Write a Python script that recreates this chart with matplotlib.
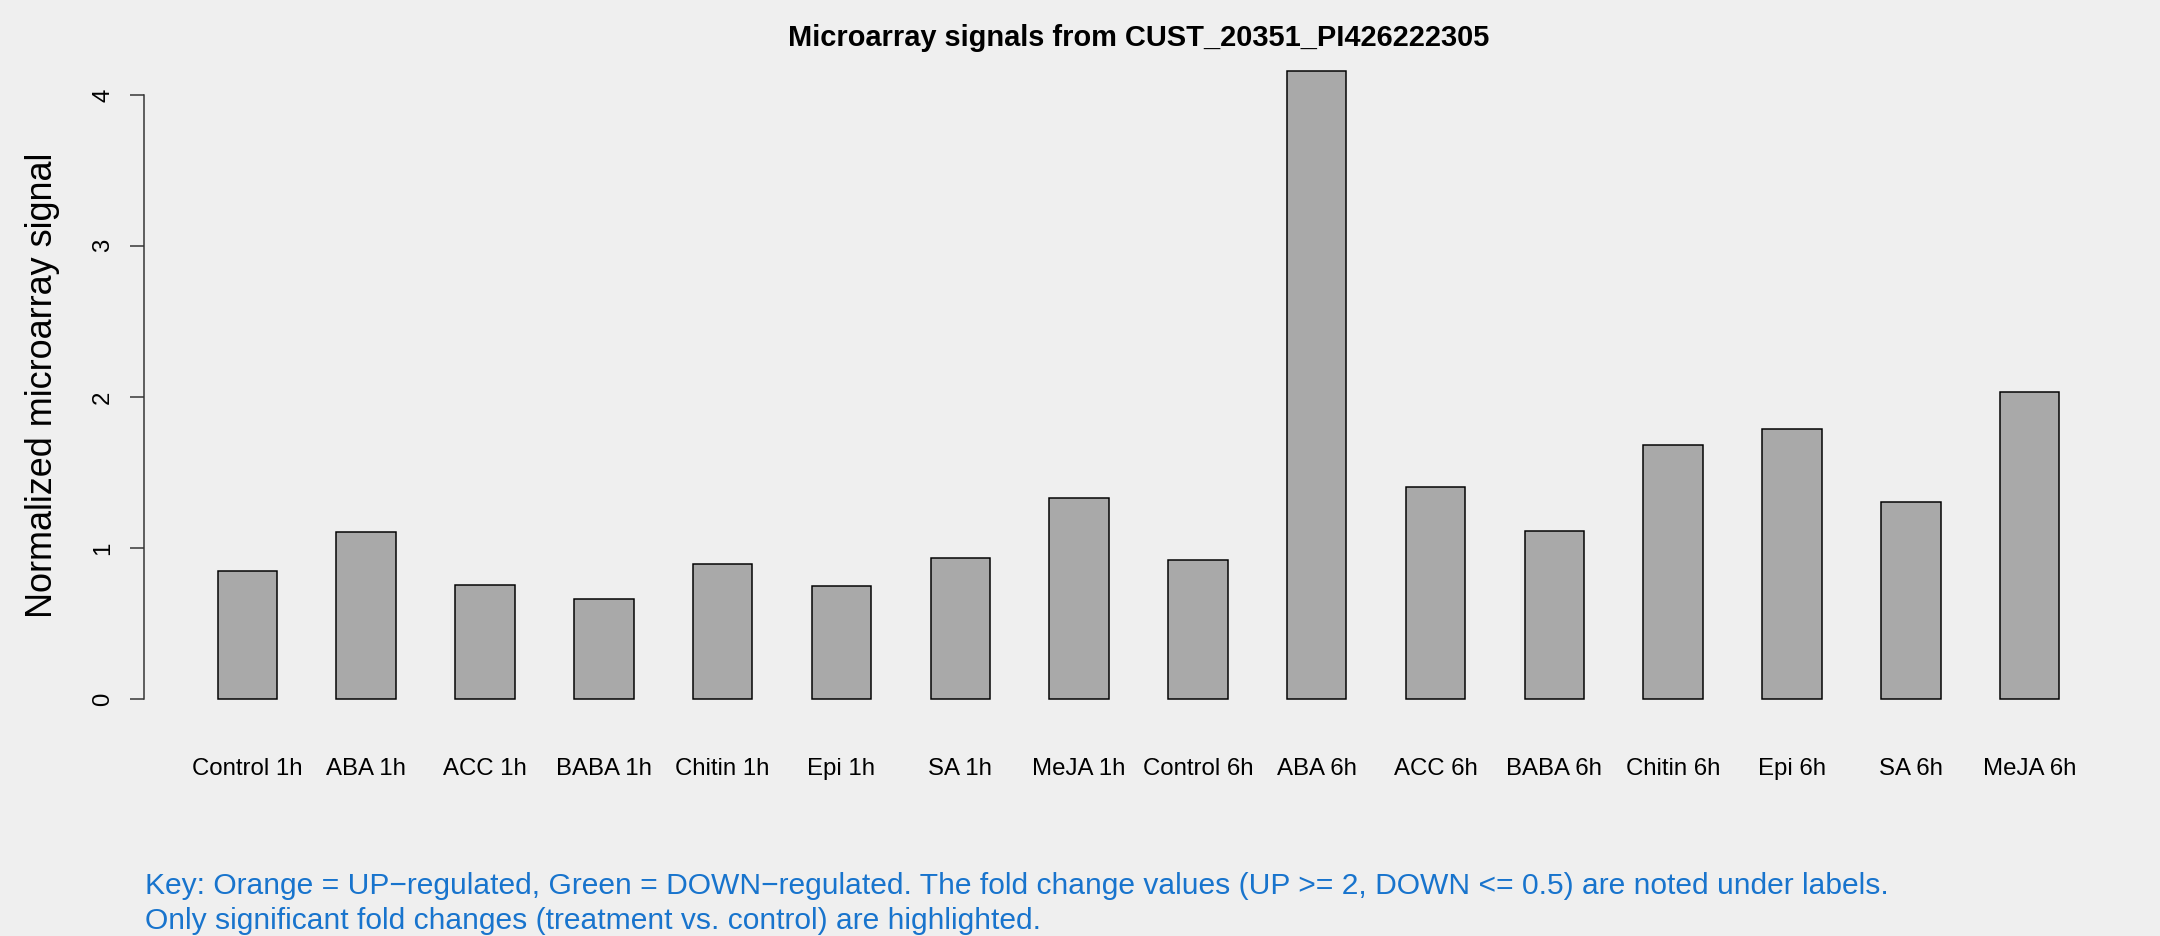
import matplotlib
matplotlib.use("Agg")
import matplotlib.pyplot as plt
import numpy as np

categories = ["Control 1h", "ABA 1h", "ACC 1h", "BABA 1h", "Chitin 1h", "Epi 1h",
              "SA 1h", "MeJA 1h", "Control 6h", "ABA 6h", "ACC 6h", "BABA 6h",
              "Chitin 6h", "Epi 6h", "SA 6h", "MeJA 6h"]
values = [0.848, 1.106, 0.755, 0.664, 0.896, 0.748, 0.932, 1.327,
          0.917, 4.157, 1.403, 1.109, 1.678, 1.790, 1.301, 2.029]
yticks = [0, 1, 2, 3, 4]
title = "Microarray signals from CUST_20351_PI426222305"
ylabel = "Normalized microarray signal"
key_lines = ["Key: Orange = UP\u2212regulated, Green = DOWN\u2212regulated. The fold change values (UP >= 2, DOWN <= 0.5) are noted under labels.",
             "Only significant fold changes (treatment vs. control) are highlighted."]

plt.rcParams['font.family'] = ['Liberation Sans', 'DejaVu Sans']

W, H = 2160, 936
DPI = 144
bg = '#EFEFEF'
fig = plt.figure(figsize=(W / DPI, H / DPI), dpi=DPI, facecolor=bg)

# plot region in pixels
left_px, right_px, top_px, bottom_px = 144, 2133, 46, 724
ax = fig.add_axes([left_px / W, 1 - bottom_px / H,
                   (right_px - left_px) / W, (bottom_px - top_px) / H])
ax.set_facecolor(bg)
ax.patch.set_alpha(0)

# R barplot geometry: width 1, space 1
n = len(values)
centers = np.arange(n) * 2 + 1.5
ax.bar(centers, values, width=1.0, color='#A9A9A9', edgecolor='black', linewidth=0.75)

x_lo, x_hi = 1.0, 2.0 * n
pad_x = 0.04 * (x_hi - x_lo)
ax.set_xlim(x_lo - pad_x, x_hi + pad_x)
ymax = max(values)
ax.set_ylim(-0.04 * ymax, 1.04 * ymax)

for s in ['top', 'right', 'bottom']:
    ax.spines[s].set_visible(False)
ax.spines['left'].set_bounds(min(yticks), max(yticks))
ax.spines['left'].set_linewidth(0.75)
ax.spines['left'].set_color('#333333')

ax.set_yticks(yticks)
ax.set_yticklabels([str(t) for t in yticks])
ax.tick_params(axis='y', length=7, width=0.75, color='#333333', pad=8, labelsize=12)
for lab in ax.get_yticklabels():
    lab.set_rotation(90)
    lab.set_va('center')
    lab.set_ha('right')

ax.set_xticks(centers)
ax.set_xticklabels(categories)
ax.tick_params(axis='x', length=0, pad=17, labelsize=12)

fig.text((left_px + right_px) / 2 / W, 1 - 46 / H, title, ha='center', va='baseline',
         fontsize=14.5, fontweight='bold')
fig.text(43 / W, 1 - ((top_px + bottom_px) / 2) / H, ylabel, rotation=90,
         ha='center', va='center', fontsize=18)

fig.text(145 / W, 1 - 894 / H, key_lines[0], ha='left', va='baseline',
         fontsize=15, color='#1874CD')
fig.text(145 / W, 1 - 929 / H, key_lines[1], ha='left', va='baseline',
         fontsize=15, color='#1874CD')

fig.savefig('out.png', dpi=DPI, facecolor=bg)
